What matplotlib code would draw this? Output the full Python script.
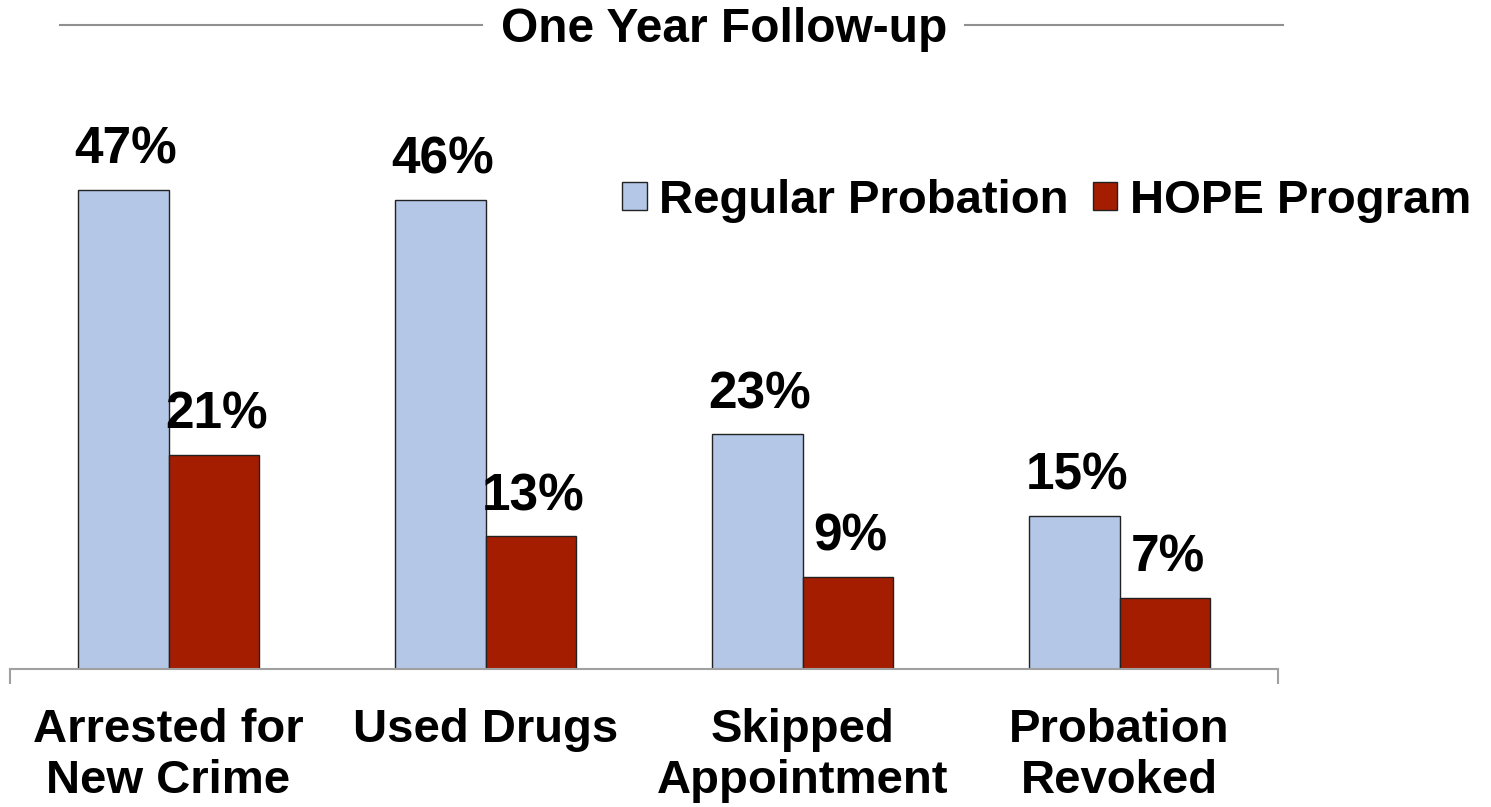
import matplotlib.pyplot as plt
from matplotlib.lines import Line2D
import numpy as np

plt.rcParams['font.family'] = ['Liberation Sans', 'DejaVu Sans']
plt.rcParams['font.weight'] = 'bold'

categories = ["Arrested for\nNew Crime", "Used Drugs", "Skipped\nAppointment", "Probation\nRevoked"]
regular = [47, 46, 23, 15]
hope = [21, 13, 9, 7]
series_names = ["Regular Probation", "HOPE Program"]

blue = "#b4c7e7"
red = "#a51d00"

fig = plt.figure(figsize=(14.91, 8.07), dpi=100)
ax = fig.add_axes([10/1491, 138/807, 1268/1491, 571/807])

x = np.arange(len(categories))
w = 0.285
b1 = ax.bar(x - w/2, regular, w, color=blue, edgecolor="#222222", linewidth=1, label=series_names[0])
b2 = ax.bar(x + w/2, hope, w, color=red, edgecolor="#222222", linewidth=1, label=series_names[1])

# value labels above bars
for bars, vals in ((b1, regular), (b2, hope)):
    for bar, v in zip(bars, vals):
        ax.annotate(f"{v}%", (bar.get_x() + bar.get_width()/2, v),
                    xytext=(2, 11), textcoords="offset points",
                    ha="center", va="bottom", fontsize=37, fontweight="bold")

ax.set_xlim(-0.5, 3.5)
ax.set_ylim(0, 56)
for s in ["top", "right", "left"]:
    ax.spines[s].set_visible(False)
ax.spines["bottom"].set_color("#a0a0a0")
ax.spines["bottom"].set_linewidth(1.5)
ax.set_yticks([])
ax.set_xticks([-0.5, 3.5])
ax.set_xticklabels(["", ""])
ax.tick_params(axis="x", length=11, width=1.5, color="#a0a0a0")

for i, c in enumerate(categories):
    ax.text(i, -3.8, c, ha="center", va="top", fontsize=34, fontweight="bold",
            linespacing=1.2, transform=ax.transData)

fig.legend(loc="upper right", bbox_to_anchor=(1490/1491, 1 - 160/807), ncol=2,
           frameon=False, fontsize=34, handlelength=0.52, handleheight=0.52,
           handletextpad=0.27, columnspacing=0.5, borderaxespad=0)

fig.text(724/1491, 1 - 30/807, "One Year Follow-up", ha="center", va="center",
         fontsize=34.5, fontweight="bold")
fig.add_artist(Line2D([60/1491, 482/1491], [1 - 25/807, 1 - 25/807], color="#909090", linewidth=1.5))
fig.add_artist(Line2D([965/1491, 1283/1491], [1 - 25/807, 1 - 25/807], color="#909090", linewidth=1.5))

fig.savefig("out.png", dpi=100)
